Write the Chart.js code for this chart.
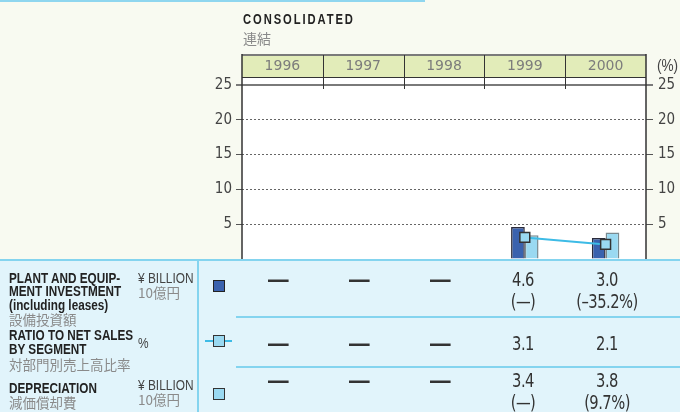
<!DOCTYPE html>
<html>
<head>
<meta charset="utf-8">
<script src="https://cdn.jsdelivr.net/npm/chart.js@4.4.0/dist/chart.umd.min.js"></script>
<style>
  html, body { margin: 0; padding: 0; }
  body { width: 680px; height: 412px; position: relative; overflow: hidden; background: #f8faf1;
         font-family: "Liberation Sans", Arial, sans-serif; }
  #topline { position: absolute; left: 0; top: 0; width: 425px; height: 2px; background: #8fd6ef; }
  #table { position: absolute; left: 0; top: 259px; width: 680px; height: 153px; background: #e1f4fb; }
  canvas { position: absolute; left: 0; top: 0; }
  .t { position: absolute; white-space: nowrap; line-height: 1; transform-origin: left center; }
  .b { font-weight: bold; color: #222; font-size: 14.5px; transform: scaleX(0.81); }
  .jp { font-family: "Noto Sans CJK JP", sans-serif; color: #8a8a8a; font-size: 13.5px; }
  .u { color: #444; font-size: 14px; transform: scaleX(0.85); }
  .v { color: #333; font-size: 19px; width: 100px; text-align: center; transform: scaleX(0.86);
       transform-origin: center center;
       font-family: "DejaVu Sans Condensed", "DejaVu Sans", sans-serif; letter-spacing: -0.6px; }
</style>
</head>
<body>
<div id="topline"></div>
<div id="table"></div>
<canvas id="chart" width="680" height="412"></canvas>
<div id="overlay"></div>
<script>
const years = ['1996', '1997', '1998', '1999', '2000'];
const plantInvestment = [null, null, null, 4.6, 3.0];
const plantChange = [null, null, null, '—', '–35.2%'];
const ratioToSales = [null, null, null, 3.1, 2.1];
const depreciation = [null, null, null, 3.4, 3.8];
const depreciationChange = [null, null, null, '—', '9.7%'];
const yTicks = [5, 10, 15, 20, 25];

const DARK = '#3a62ae';
const LIGHT = '#9ad9f1';

const frame = {
  id: 'frame',
  beforeDraw(chart) {
    const { ctx, chartArea: a } = chart;
    ctx.save();
    ctx.fillStyle = '#ffffff';
    ctx.fillRect(a.left, 55, a.right - a.left, a.bottom - 55);
    // year header band
    ctx.fillStyle = '#e2ecb9';
    ctx.fillRect(a.left, 55, a.right - a.left, 22);
    ctx.restore();
  },
  afterDraw(chart) {
    const { ctx, chartArea: a, scales } = chart;
    const x = scales.x;
    ctx.save();
    ctx.strokeStyle = '#7a7a7a';
    ctx.lineWidth = 2;
    ctx.beginPath();
    ctx.moveTo(a.left, 55); ctx.lineTo(a.right, 55);
    ctx.stroke();
    // 25 line
    const y25 = scales.y.getPixelForValue(25);
    ctx.beginPath();
    ctx.moveTo(a.left - 6, y25); ctx.lineTo(a.right + 7, y25);
    ctx.stroke();
    ctx.strokeStyle = '#333';
    ctx.lineWidth = 1;
    ctx.beginPath();
    ctx.moveTo(a.left, 77.5); ctx.lineTo(a.right, 77.5);
    ctx.stroke();
    // separators between years
    const step = (a.right - a.left) / years.length;
    ctx.beginPath();
    for (let i = 1; i < years.length; i++) {
      const px = Math.round(x.getPixelForValue(i) - step / 2) + 0.5;
      ctx.moveTo(px, 55); ctx.lineTo(px, y25 + 4);
    }
    ctx.stroke();
    // side axis lines
    ctx.lineWidth = 1.5;
    ctx.beginPath();
    ctx.moveTo(a.left, 54); ctx.lineTo(a.left, a.bottom);
    ctx.moveTo(a.right, 54); ctx.lineTo(a.right, a.bottom);
    ctx.stroke();
    // table top line
    ctx.strokeStyle = '#84d4ef';
    ctx.lineWidth = 2;
    ctx.beginPath();
    ctx.moveTo(0, a.bottom + 1); ctx.lineTo(680, a.bottom + 1);
    ctx.moveTo(198, a.bottom); ctx.lineTo(198, 412);
    ctx.stroke();
    ctx.restore();
  }
};

const tickFont = { family: '"DejaVu Sans Condensed", "DejaVu Sans", sans-serif', size: 15 };

new Chart(document.getElementById('chart'), {
  data: {
    labels: years,
    datasets: [
      {
        type: 'line',
        label: 'Ratio to net sales',
        data: ratioToSales,
        order: 0,
        yAxisID: 'y',
        borderColor: '#3dbbe6',
        borderWidth: 2,
        pointStyle: 'rect',
        pointRadius: 7,
        pointBackgroundColor: LIGHT,
        pointBorderColor: '#333',
        pointBorderWidth: 1.5
      },
      {
        type: 'bar',
        label: 'Plant and equipment investment',
        data: plantInvestment,
        order: 1,
        backgroundColor: DARK,
        borderColor: '#2b2b3b',
        borderWidth: 1.5,
        categoryPercentage: 0.34,
        barPercentage: 1
      },
      {
        type: 'bar',
        label: 'Depreciation',
        data: depreciation,
        order: 1,
        backgroundColor: LIGHT,
        borderColor: '#7a8a90',
        borderWidth: 1.5,
        categoryPercentage: 0.34,
        barPercentage: 1
      }
    ]
  },
  options: {
    responsive: false,
    animation: false,
    layout: { padding: { left: 0, right: 0, top: 55, bottom: 153 } },
    plugins: { legend: { display: false }, tooltip: { enabled: false } },
    scales: {
      x: {
        position: 'top',
        grid: { display: false },
        border: { display: false },
        ticks: { color: '#7c7c7c', padding: 2, font: { family: '"DejaVu Sans", sans-serif', size: 14 }, maxRotation: 0 },
        afterFit: s => { s.height = 30; }
      },
      y: {
        position: 'left',
        min: 0, max: 25,
        afterBuildTicks: s => { s.ticks = [0, ...yTicks].map(v => ({ value: v })); },
        ticks: { color: '#444', padding: 4, font: tickFont, callback: v => (v === 0 ? '' : v) },
        grid: {
          color: c => (c.tick && c.tick.value === 0 ? 'rgba(0,0,0,0)' : '#666'),
          tickColor: c => (c.tick && c.tick.value === 0 ? 'rgba(0,0,0,0)' : '#555'),
          tickLength: 6,
          lineWidth: 1
        },
        border: { display: false, dash: [2, 2] },
        afterFit: s => { s.width = 242; }
      },
      y2: {
        position: 'right',
        min: 0, max: 25,
        afterBuildTicks: s => { s.ticks = [0, ...yTicks].map(v => ({ value: v })); },
        ticks: { color: '#444', padding: 5, font: tickFont, callback: v => (v === 0 ? '' : v) },
        grid: {
          drawOnChartArea: false,
          tickColor: c => (c.tick && c.tick.value === 0 ? 'rgba(0,0,0,0)' : '#555'),
          tickLength: 7
        },
        border: { display: false },
        afterFit: s => { s.width = 34; }
      }
    }
  },
  plugins: [frame]
});

// header and table text
const overlay = document.getElementById('overlay');
function put(cls, text, left, top, extra) {
  const d = document.createElement('div');
  d.className = 't ' + cls;
  d.textContent = text;
  d.style.left = left + 'px';
  d.style.top = top + 'px';
  if (extra) Object.assign(d.style, extra);
  overlay.appendChild(d);
  return d;
}
function box(style) {
  const d = document.createElement('div');
  d.style.position = 'absolute';
  Object.assign(d.style, style);
  overlay.appendChild(d);
}

put('b', 'CONSOLIDATED', 243, 12, { fontSize: '14px', letterSpacing: '2.4px', transform: 'scaleX(0.8)' });
put('jp', '連結', 243, 31, { fontSize: '14px' });
put('u', '(%)', 657, 58, { fontSize: '16px', transform: 'scaleX(0.85)' });

// row labels
put('b', 'PLANT AND EQUIP-', 9, 271);
put('b', 'MENT INVESTMENT', 9, 284);
put('b', '(including leases)', 9, 298);
put('jp', '設備投資額', 9, 313);
put('b', 'RATIO TO NET SALES', 9, 328);
put('b', 'BY SEGMENT', 9, 342);
put('jp', '対部門別売上高比率', 9, 358);
put('b', 'DEPRECIATION', 9, 381);
put('jp', '減価償却費', 9, 396);

put('u', '¥ BILLION', 138, 271);
put('jp', '10億円', 138, 286);
put('u', '%', 138, 336);
put('u', '¥ BILLION', 138, 378);
put('jp', '10億円', 138, 393);

// separators
box({ left: '236px', top: '316px', width: '444px', height: '2px', background: '#84d4ef' });
box({ left: '236px', top: '366px', width: '444px', height: '2px', background: '#84d4ef' });

// legend icons
box({ left: '213px', top: '280px', width: '10px', height: '10px', border: '1px solid #222', background: DARK });
box({ left: '205px', top: '340px', width: '27px', height: '2px', background: '#3dbbe6' });
box({ left: '213px', top: '335px', width: '10px', height: '10px', border: '1px solid #333', background: LIGHT });
box({ left: '213px', top: '388px', width: '10px', height: '10px', border: '1px solid #333', background: LIGHT });

// values; empty years show a long dash
const centers = [278, 359, 440, 523, 607];
const dashStyle = { fontWeight: 'bold', transform: 'scaleX(1.35)' };
function cell(v, c, top) {
  if (v === null) put('v', '—', c - 50, top, dashStyle);
  else put('v', v.toFixed(1), c - 50, top);
}
years.forEach((yr, i) => {
  const c = centers[i];
  cell(plantInvestment[i], c, 270);
  if (plantChange[i] !== null) put('v', '(' + plantChange[i] + ')', c - 50, 292);
  cell(ratioToSales[i], c, 334);
  cell(depreciation[i], c, 371);
  if (depreciationChange[i] !== null) put('v', '(' + depreciationChange[i] + ')', c - 50, 393);
});
</script>
</body>
</html>
